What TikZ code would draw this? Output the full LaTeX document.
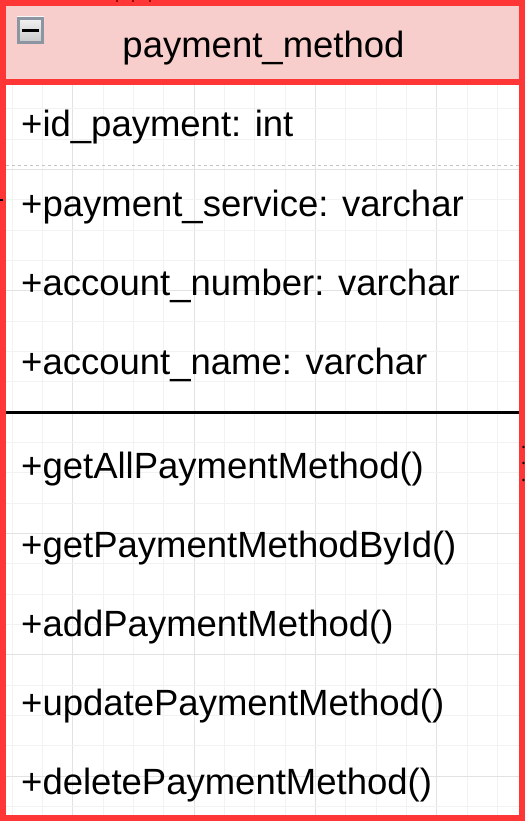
\documentclass[tikz,border=0pt]{standalone}
\usepackage{fontspec}
\setmainfont{Liberation Sans}
\definecolor{redline}{HTML}{FF3636}
\definecolor{headfill}{HTML}{F8CECC}
\definecolor{gridminor}{HTML}{F2F2F2}
\definecolor{gridmajor}{HTML}{E2E2E2}
\definecolor{iconedge}{HTML}{8C95A2}
\definecolor{sepgray}{HTML}{C4C4C4}
\tikzset{
  member/.style={anchor=base west, inner sep=0pt, font=\fontsize{36.5}{43}\selectfont},
  titletext/.style={anchor=base, inner sep=0pt, font=\fontsize{36.5}{43}\selectfont},
  frame/.style={draw=redline, line width=6pt},
}
\begin{document}
\begin{tikzpicture}[x=1pt,y=-1pt]
\useasboundingbox (0,0) rectangle (525,821);
\fill[white] (0,0) rectangle (525,821);
% background grid
\foreach \i in {0,...,16} {
  \pgfmathsetmacro\xx{12.33+30.333*\i}
  \pgfmathtruncatemacro\mm{mod(\i,4)}
  \ifnum\mm=2 \draw[gridmajor, line width=1pt] (\xx,0) -- (\xx,821);
  \else \draw[gridminor, line width=1pt] (\xx,0) -- (\xx,821); \fi
}
\foreach \j in {0,...,26} {
  \pgfmathsetmacro\yy{806.33-30.333*\j}
  \pgfmathtruncatemacro\mm{mod(\j,4)}
  \ifnum\mm=1 \draw[gridmajor, line width=1pt] (0,\yy) -- (525,\yy);
  \else \draw[gridminor, line width=1pt] (0,\yy) -- (525,\yy); \fi
}
% header
\fill[headfill] (3,3) rectangle (522,82);
% class frame
\draw[frame] (3,3) rectangle (522,818);
\draw[frame] (3,82) -- (522,82);
% collapse icon
\shade[top color=gray!8, bottom color=gray!45] (17,17) rectangle (44,44);
\draw[iconedge, line width=3pt] (18.5,18.5) rectangle (42.5,42.5);
\fill[black] (22,29) rectangle (39,32);
% separators
\draw[sepgray, line width=1pt, dash pattern=on 3pt off 3pt] (6,166) -- (519,166);
\draw[black, line width=3pt] (6,412.5) -- (519,412.5);
% texts
\node[titletext] (title) at (263.5,58) {payment\_method};
\node[member] (a1) at (21,137) {+id\_payment: int};
\node[member] (a2) at (21,216) {+payment\_service: varchar};
\node[member] (a3) at (21,295) {+account\_number: varchar};
\node[member] (a4) at (21,374) {+account\_name: varchar};
\node[member] (m1) at (21,478) {+getAllPaymentMethod()};
\node[member] (m2) at (21,557) {+getPaymentMethodById()};
\node[member] (m3) at (21,636) {+addPaymentMethod()};
\node[member] (m4) at (21,715) {+updatePaymentMethod()};
\node[member] (m5) at (21,794) {+deletePaymentMethod()};
% fragments of neighbouring connectors
\draw[black, line width=1.5pt] (0,200) -- (3,200);
\foreach \yy in {447,463,480} \fill[black] (523.5,\yy) circle (1.3);
\foreach \xx in {117,133,150} \draw[red!60!black, line width=2pt] (\xx,0) -- (\xx,2);
\end{tikzpicture}
\end{document}
